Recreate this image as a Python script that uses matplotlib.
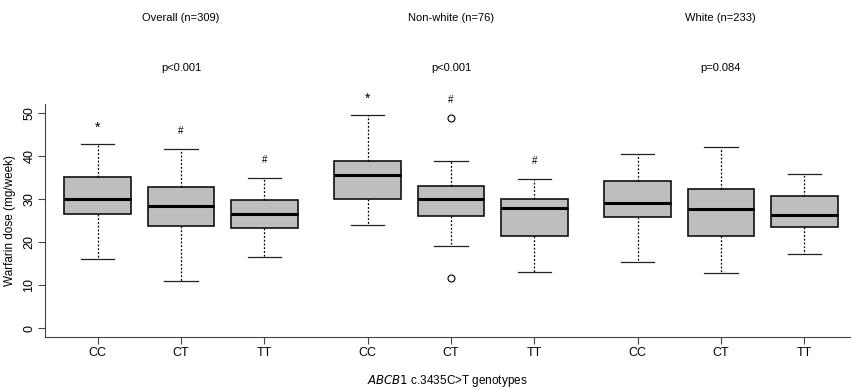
import matplotlib.pyplot as plt

plt.rcParams['font.family'] = ['Liberation Sans', 'DejaVu Sans']

# Groups and genotypes
groups = ['Overall (n=309)', 'Non-white (n=76)', 'White (n=233)']
p_values = ['p<0.001', 'p<0.001', 'p=0.084']
genotypes = ['CC', 'CT', 'TT']

# Box statistics (mg/week), order: Overall, Non-white, White
whislo = [16.0, 10.9, 16.5, 23.9, 19.0, 13.0, 15.4, 12.8, 17.3]
q1 = [26.4, 23.7, 23.2, 30.0, 26.1, 21.3, 25.9, 21.5, 23.6]
med = [29.9, 28.3, 26.5, 35.6, 29.9, 28.0, 29.0, 27.6, 26.2]
q3 = [35.1, 32.7, 29.8, 38.9, 32.9, 29.9, 34.1, 32.2, 30.7]
whishi = [42.8, 41.6, 34.8, 49.5, 38.9, 34.7, 40.5, 42.1, 35.8]
fliers = [[], [], [], [], [48.8, 11.6], [], [], [], []]

# significance marks
marks = ['*', '#', '#', '*', '#', '#', '', '', '']

# box positions (groups separated by a small gap)
positions = [1, 2, 3, 4.24, 5.24, 6.24, 7.48, 8.48, 9.48]

stats = []
for i in range(len(med)):
    stats.append(dict(whislo=whislo[i], q1=q1[i], med=med[i], q3=q3[i],
                      whishi=whishi[i], fliers=fliers[i]))

fig = plt.figure(figsize=(8.51, 3.91), dpi=100)
ax = fig.add_axes([45 / 851, 54 / 391, 805 / 851, 233 / 391])

ax.bxp(stats, positions=positions, widths=0.8, patch_artist=True,
       boxprops=dict(facecolor='#bebebe', edgecolor='#111111', linewidth=1.2),
       medianprops=dict(color='black', linewidth=2.2),
       whiskerprops=dict(color='black', linewidth=0.9, linestyle=(0, (1.5, 1.5))),
       capprops=dict(color='#222222', linewidth=0.9),
       flierprops=dict(marker='o', markerfacecolor='none', markeredgecolor='black',
                       markersize=5, markeredgewidth=0.8),
       capwidths=0.4)

# significance symbols above each box
for i, m in enumerate(marks):
    if m:
        top = max([whishi[i]] + fliers[i])
        if m == '*':
            ax.text(positions[i], top + 3.6, m, ha='center', va='center', fontsize=10)
        else:
            ax.text(positions[i], top + 4.2, m, ha='center', va='center', fontsize=7)

ax.set_xlim(0.367, 10.03)
ax.set_ylim(-2, 52)
ax.set_yticks([0, 10, 20, 30, 40, 50])
ax.set_yticklabels(['0', '10', '20', '30', '40', '50'], rotation=90, va='center')
ax.set_xticks(positions)
ax.set_xticklabels(genotypes * 3)
ax.tick_params(labelsize=9, length=5, width=0.8, color='#444444')
ax.tick_params(axis='y', pad=2)
ax.tick_params(axis='x', pad=2)
ax.spines['top'].set_visible(False)
ax.spines['right'].set_visible(False)
ax.spines['left'].set_color('#444444')
ax.spines['bottom'].set_color('#444444')
ax.set_ylabel('Warfarin dose (mg/week)', fontsize=8.5)
ax.yaxis.set_label_coords(-0.036, 0.5)
ax.set_xlabel(r'$\it{ABCB1}$ c.3435C>T genotypes', fontsize=8.5, labelpad=10)

# group headers with p-values
for g in range(3):
    xc = ax.transData.transform((positions[g * 3 + 1], 0))[0] / 851
    fig.text(xc, 1 - 18 / 391, groups[g], ha='center', va='center', fontsize=8)
    fig.text(xc, 1 - 68 / 391, p_values[g], ha='center', va='center', fontsize=8)

fig.savefig('out.png', dpi=100)
